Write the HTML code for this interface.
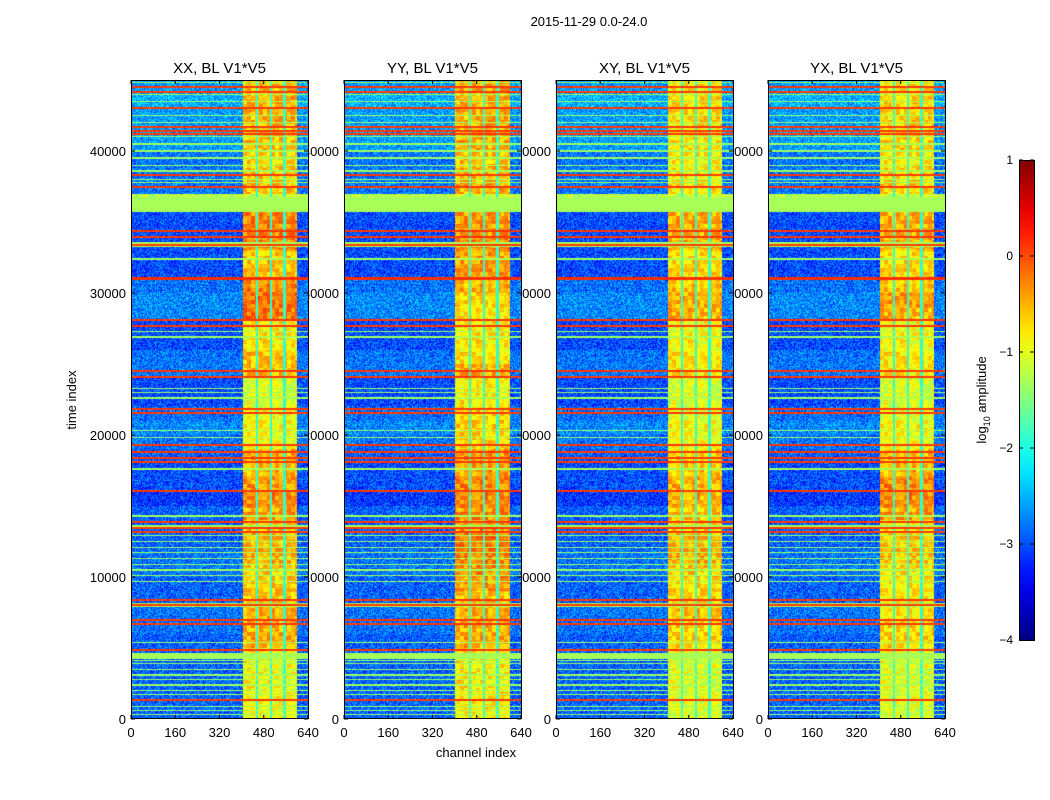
<!DOCTYPE html>
<html><head><meta charset="utf-8">
<style>
body{margin:0;background:#fff;}
#wrap{position:relative;width:1050px;height:800px;overflow:hidden;background:#fff;font-family:"Liberation Sans",sans-serif;}
svg{position:absolute;left:0;top:0;}
canvas{position:absolute;}
</style></head>
<body>
<div id="wrap">
<svg id="svg" width="1050" height="800"></svg>
</div>
<script>
// ---- data ----
const panelTitles = ["XX, BL V1*V5","YY, BL V1*V5","XY, BL V1*V5","YX, BL V1*V5"];
const xTicks = [0,160,320,480,640];
const yTicks = [0,10000,20000,30000,40000];
const cbarTicks = [1,0,-1,-2,-3,-4];
// band levels per 1000-time block (index 0 = 0..1000)
const bandXX = [-0.9,-0.9,-0.9,-0.9,-0.9,-0.5,-0.5,-0.5,-0.6,-0.6,-0.6,-0.5,-0.5,-0.6,-0.4,-0.3,-0.4,-0.5,-0.5,-0.9,-0.9,-0.9,-1.0,-1.0,-0.6,-0.6,-0.8,-0.8,-0.2,-0.2,-0.3,-0.6,-0.6,-0.3,-0.3,-0.3,-1.2,-0.6,-0.6,-0.7,-0.6,-0.6,-0.5,-0.5,-0.6];
const bandYY = [-0.8,-0.8,-0.8,-0.8,-0.8,-0.5,-0.5,-0.5,-0.6,-0.4,-0.3,-0.3,-0.2,-0.4,-0.3,-0.3,-0.3,-0.4,-0.4,-0.7,-0.7,-0.7,-0.8,-0.8,-0.5,-0.8,-0.8,-0.8,-0.8,-0.7,-0.5,-0.4,-0.4,-0.3,-0.4,-0.4,-1.2,-0.5,-0.5,-0.6,-0.5,-0.5,-0.5,-0.5,-0.5];
const bandXY = [-1.0,-1.0,-1.0,-1.0,-1.0,-0.7,-0.7,-0.6,-0.7,-0.7,-0.6,-0.5,-0.5,-0.7,-0.6,-0.5,-0.5,-0.6,-0.7,-0.9,-0.9,-1.0,-1.0,-1.0,-0.8,-0.8,-0.9,-0.9,-0.5,-0.5,-0.6,-0.7,-0.7,-0.5,-0.5,-0.5,-1.2,-0.8,-0.8,-0.8,-0.8,-0.8,-0.7,-0.7,-0.8];
const bandYX = [-1.0,-1.0,-1.0,-1.0,-1.0,-0.7,-0.7,-0.8,-0.8,-0.8,-0.7,-0.6,-0.6,-0.8,-0.4,-0.3,-0.3,-0.5,-0.6,-0.9,-0.9,-1.0,-1.0,-1.0,-0.8,-0.8,-0.9,-0.9,-0.5,-0.4,-0.6,-0.7,-0.7,-0.5,-0.5,-0.5,-1.2,-0.7,-0.7,-0.8,-0.7,-0.7,-0.7,-0.7,-0.8];
const bandLevels = [bandXX, bandYY, bandXY, bandYX];
// background (non-band channels) level per 1000-time block
const baseLevels = [-2.9,-2.9,-2.9,-2.9,-2.9,-2.9,-2.8,-2.8,-2.9,-2.9,-2.8,-2.8,-2.9,-2.9,-2.9,-3.1,-3.0,-3.0,-2.9,-2.8,-2.7,-2.8,-3.0,-3.0,-2.8,-2.8,-3.0,-3.0,-2.7,-2.7,-2.8,-3.0,-3.0,-3.0,-3.0,-3.0,-1.2,-2.8,-2.8,-2.8,-2.6,-2.6,-2.6,-2.5,-2.6];
// flagged time ranges [start, end, level], full width
const flagStart = [44450,44100,42950,41620,41340,41130,38240,37400,34300,33880,33300,30950,28030,27600,24440,24010,21760,21480,19220,18730,18310,18030,15980,13800,13380,13100,8310,7960,6900,6620,4790,1270, 35700,33240,7890,4230];
const flagEnd   = [44570,44220,43070,41760,41460,41250,38380,37540,34440,34010,33450,31150,28170,27740,24580,24150,21900,21620,19400,18880,18450,18170,16120,13940,13520,13240,8450,8100,7040,6760,4930,1400, 36760,33600,8170,4650];
const flagLevel = [0.1,0.1,0.1,0.1,0.1,0.1,0.1,0.1,0.1,0.1,0.1,0.15,0.1,0.1,0.1,0.1,0.1,0.1,0.1,0.1,0.1,0.1,0.1,0.1,0.1,0.1,0.1,0.1,0.1,0.1,0.1,0.1, -1.3,-1.3,-1.3,-1.3];
// thin green lines (time indices)
const greenLines = [300,600,900,1300,1700,2000,2400,2800,3100,3500,3900,4100,5400,9700,10100,10500,10900,11300,11700,12100,12500,12900,13600,14300,17600,19800,20300,22600,23000,23300,26900,27300,32400,37800,38000,38600,39000,39500,40000,40500,41000,42000,42500,43500,44000,44800];
// channel gaps inside band (cyan vertical lines)
const gapChannels = [455,505,555];
const bandStart = [405,400,405,405];
const bandEnd = 600;

// ---- geometry ----
const panelX = [131,344,556,768];
const PW = 177, PT = 80, PB = 719;
const tMax = 45000;
function yOf(t){ return PB - (t/tMax)*(PB-PT); }
function xOf(i,c){ return panelX[i] + c/640*PW; }
function jet(v){ // v in [-4,1]
  let x=(v+4)/5; x=Math.max(0,Math.min(1,x));
  const f=(a)=>Math.max(0,Math.min(1,a));
  const r=f(1.5-Math.abs(4*x-3)), g=f(1.5-Math.abs(4*x-2)), b=f(1.5-Math.abs(4*x-1));
  return [Math.round(r*255),Math.round(g*255),Math.round(b*255)];
}
function tex(a,b){ let h=(a*374761393+b*668265263)|0; h=(h^(h>>>13))*1274126177|0; return ((h>>>0)%1000)/1000-0.5; }

const svg=document.getElementById('svg');
const NS='http://www.w3.org/2000/svg';
function mk(tag,attrs,txt){const e=document.createElementNS(NS,tag);for(const k in attrs)e.setAttribute(k,attrs[k]);if(txt!==undefined)e.textContent=txt;svg.appendChild(e);return e;}

for(let i=0;i<4;i++){
  for(const t of yTicks){
    const e=mk('text',{x:panelX[i]-5,y:yOf(t)+5,'text-anchor':'end','font-size':13,fill:'#000'},String(t));
    
    
  }
}
const wrap=document.getElementById('wrap');
for(let i=0;i<4;i++){
  const cv=document.createElement('canvas');
  cv.width=PW; cv.height=PB-PT;
  cv.style.left=panelX[i]+'px'; cv.style.top=PT+'px';
  
  
  wrap.appendChild(cv);
  const ctx=cv.getContext('2d');
  const img=ctx.createImageData(PW,PB-PT);
  for(let py=0;py<PB-PT;py++){
    const t=(PB-PT-py-0.5)/(PB-PT)*tMax;
    const blk=Math.min(44,Math.floor(t/1000));
    let flag=null;
    for(let k=0;k<flagStart.length;k++) if(t>=flagStart[k]&&t<flagEnd[k]){flag=flagLevel[k];break;}
    let green=false;
    for(const g of greenLines) if(Math.abs(t-g)<45){green=true;break;}
    for(let px=0;px<PW;px++){
      const c=(px+0.5)/PW*640;
      let v;
      const inBand=c>=bandStart[i]&&c<bandEnd;
      if(flag!==null){ v=flag+(flag>-1?tex(px,py)*0.15:0); }
      else if(green){ v=inBand?-1.3:-1.35; }
      else if(inBand){
        v=bandLevels[i][blk]+tex(px>>2,py>>2)*0.6+tex(px,py)*0.3;
        for(const g of gapChannels) if(Math.abs(c-g)<4) v=-1.9;
      } else {
        v=baseLevels[blk]+tex(px,py)*0.9;
      }
      const [r,g,b]=jet(v);
      const o=(py*PW+px)*4;
      img.data[o]=r;img.data[o+1]=g;img.data[o+2]=b;img.data[o+3]=255;
    }
  }
  ctx.putImageData(img,0,0);
}
const svg2=document.createElementNS(NS,'svg');
svg2.setAttribute('width',1050);svg2.setAttribute('height',800);


wrap.appendChild(svg2);
function mk2(tag,attrs,txt){const e=document.createElementNS(NS,tag);for(const k in attrs)e.setAttribute(k,attrs[k]);if(txt!==undefined)e.textContent=txt;svg2.appendChild(e);return e;}
for(let i=0;i<4;i++){
  const f=mk2('rect',{x:panelX[i]+0.5,y:PT+0.5,width:PW,height:PB-PT-1,fill:'none',stroke:'#000','stroke-width':1});
  
  
  const tt=mk2('text',{x:panelX[i]+PW/2,y:73,'text-anchor':'middle','font-size':15,fill:'#000'},panelTitles[i]);
  
  
  for(const c of xTicks){
    const x=xOf(i,c);
    mk2('line',{x1:x,x2:x,y1:PB,y2:PB-4,stroke:'#000'});
    mk2('line',{x1:x,x2:x,y1:PT,y2:PT+4,stroke:'#000'});
    const e=mk2('text',{x:x,y:737,'text-anchor':'middle','font-size':13,fill:'#000'},String(c));
    
    
  }
  for(const t of yTicks){
    const y=yOf(t);
    mk2('line',{x1:panelX[i],x2:panelX[i]+4,y1:y,y2:y,stroke:'#000'});
    mk2('line',{x1:panelX[i]+PW,x2:panelX[i]+PW-4,y1:y,y2:y,stroke:'#000'});
  }
}
let e;
e=mk2('text',{x:589,y:26,'text-anchor':'middle','font-size':13,fill:'#000'},'2015-11-29 0.0-24.0');

e=mk2('text',{x:476,y:757,'text-anchor':'middle','font-size':13,fill:'#000'},'channel index');

e=mk2('text',{x:0,y:0,'text-anchor':'middle','font-size':13,fill:'#000',transform:'translate(76,400) rotate(-90)'},'time index');

const defs=mk2('defs',{});
const lg=document.createElementNS(NS,'linearGradient');
lg.setAttribute('id','jetg');lg.setAttribute('x1',0);lg.setAttribute('y1',1);lg.setAttribute('x2',0);lg.setAttribute('y2',0);
defs.appendChild(lg);
for(let k=0;k<=20;k++){const v=-4+k*5/20;const [r,g,b]=jet(v);const s=document.createElementNS(NS,'stop');s.setAttribute('offset',k/20);s.setAttribute('stop-color',`rgb(${r},${g},${b})`);lg.appendChild(s);}
e=mk2('rect',{x:1019.5,y:160.5,width:15,height:480,fill:'url(#jetg)',stroke:'#000','stroke-width':1});

for(const v of cbarTicks){
  const y=160+(1-v)/5*480;
  mk2('line',{x1:1019,x2:1023,y1:y,y2:y,stroke:'#000'});
  mk2('line',{x1:1030,x2:1034,y1:y,y2:y,stroke:'#000'});
  e=mk2('text',{x:1013,y:y+4,'text-anchor':'end','font-size':12,fill:'#000'},v<0?'\u2212'+Math.abs(v):String(v));
  
}
e=mk2('text',{x:0,y:0,'text-anchor':'middle','font-size':13,fill:'#000',transform:'translate(986,400) rotate(-90)'});

e.innerHTML='log<tspan font-size="9" dy="4">10</tspan><tspan dy="-4"> amplitude</tspan>';
</script>
</body></html>
